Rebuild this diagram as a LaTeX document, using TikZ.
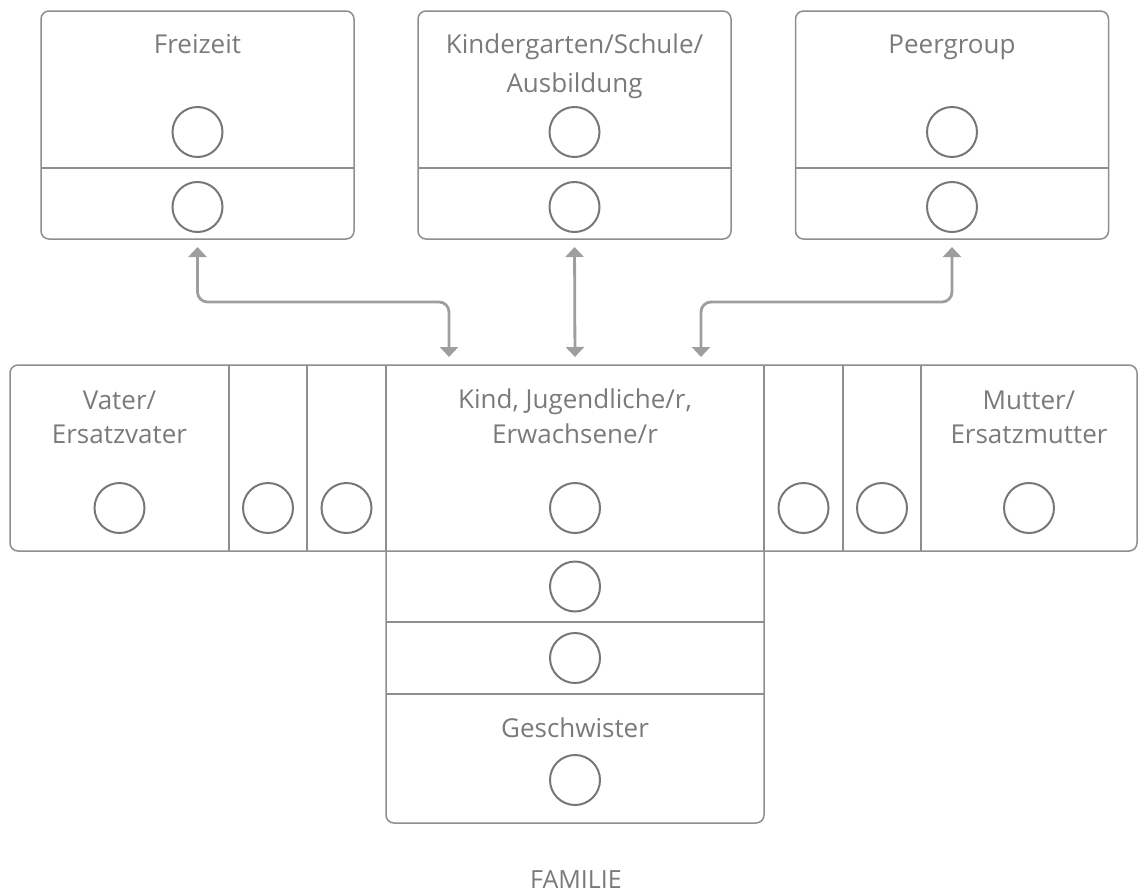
\documentclass[tikz,border=0pt]{standalone}
\usepackage{fontspec}
\setmainfont{Open Sans}
\usetikzlibrary{arrows.meta}
\definecolor{frame}{HTML}{8E8E8E}
\definecolor{ringc}{HTML}{777777}
\definecolor{labelc}{HTML}{7A7A7A}
\definecolor{linkc}{HTML}{9E9E9E}
\begin{document}
\begin{tikzpicture}[x=1pt,y=-1pt,
  panel/.style={draw=frame, line width=1.5pt, rounded corners=8pt},
  cell/.style={inner sep=0pt, outer sep=0pt, minimum height=#1},
  cell/.default=186pt,
  divider/.style={draw=frame, line width=1.8pt},
  ring/.style={circle, draw=ringc, line width=2pt, minimum size=50pt, inner sep=0pt},
  caption/.style={text=labelc, inner sep=0pt, align=center, anchor=base,
    font=\fontsize{26}{#1}\selectfont},
  caption/.default=39pt,
  link/.style={draw=linkc, line width=2.8pt, rounded corners=10pt,
    shorten <=8pt, shorten >=8pt},
  tips/.style={{Triangle[length=10pt,width=18pt]}-{Triangle[length=10pt,width=18pt]}}
]
\useasboundingbox (0,0) rectangle (1138,894);

% outer context boxes
\node[cell=228pt, minimum width=313pt] (leisure) at (197.5,125) {};
\node[cell=228pt, minimum width=313pt] (school)  at (574.5,125) {};
\node[cell=228pt, minimum width=313pt] (peers)   at (952,125) {};
\foreach \b in {leisure,school,peers}{
  \draw[panel] (\b.north west) rectangle (\b.south east);
  \draw[divider, line width=1.5pt] (\b.west |- 0,168) -- (\b.east |- 0,168);
}
% a multi-line caption sits on the baseline of its last line
\node[caption] (tleisure) at (197.5,53) {Freizeit};
\node[caption] (tschool)  at (574.5,92) {Kindergarten/Schule/\\Ausbildung};
\node[caption] (tpeers)   at (952,53) {Peergroup};
\foreach \b [count=\i] in {leisure,school,peers}{
  \node[ring] (r\i a) at (\b |- 0,132) {};
  \node[ring] (r\i b) at (\b |- 0,207) {};
}

% family row
\node[cell, minimum width=219pt] (father) at (119.5,458) {};
\node[cell, minimum width=78pt]  (fa)     at (268,458) {};
\node[cell, minimum width=79pt]  (fb)     at (346.5,458) {};
\node[cell, minimum width=378pt] (kid)    at (575,458) {};
\node[cell, minimum width=79pt]  (ma)     at (803.5,458) {};
\node[cell, minimum width=78pt]  (mb)     at (882,458) {};
\node[cell, minimum width=216pt] (mother) at (1029,458) {};
\draw[panel] (father.north west) rectangle (mother.south east);
\foreach \c in {fa,fb,kid,ma,mb,mother}
  \draw[divider] (\c.north west) -- (\c.south west);

\node[caption=34pt] (tfather) at (119.5,443) {Vater/\\Ersatzvater};
\node[caption=35pt] (tkid)    at (575,443) {Kind, Jugendliche/r,\\Erwachsene/r};
\node[caption=34pt] (tmother) at (1029,443) {Mutter/\\Ersatzmutter};
\foreach \c in {father,fa,fb,kid,ma,mb,mother}
  \node[ring] (r\c) at (\c |- 0,508) {};

% siblings column
\node[cell=71pt,  minimum width=378pt] (sa)   at (575,586.5) {};
\node[cell=72pt,  minimum width=378pt] (sb)   at (575,658) {};
\node[cell=129pt, minimum width=378pt] (sibs) at (575,758.5) {};
\draw[panel] (sa.north west) -- (sibs.south west) -- (sibs.south east) -- (sa.north east);
\draw[divider] (sb.north west) -- (sb.north east);
\draw[divider] (sibs.north west) -- (sibs.north east);
\node[ring] (rsa) at (sa) {};
\node[ring] (rsb) at (sb) {};
\node[caption] (tsibs) at (575,737) {Geschwister};
\node[ring] (rsibs) at (575,780) {};

\node[caption, font=\fontsize{25}{30}\selectfont] (family) at (576,888) {FAMILIE};

% links between the child and the outer contexts
\coordinate (inL) at (449,365);
\coordinate (inR) at (701,365);
\draw[link, tips] (leisure.south) -- ++(0,63) -| (inL);
\draw[link, tips] (school.south) -- (kid.north);
\draw[link, tips] (peers.south) -- ++(0,63) -| (inR);
\end{tikzpicture}
\end{document}
